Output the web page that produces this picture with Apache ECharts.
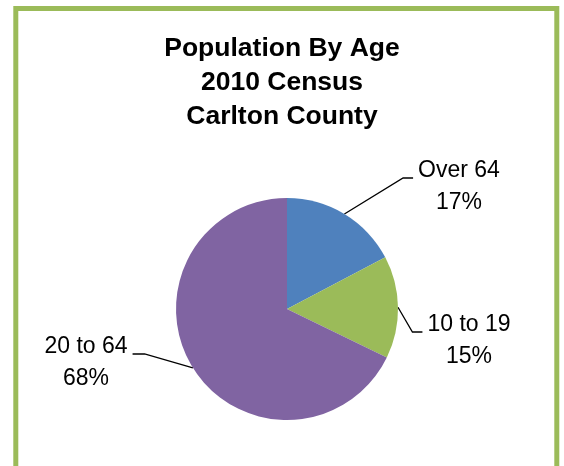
<!DOCTYPE html>
<html>
<head>
<meta charset="utf-8">
<script src="https://cdn.jsdelivr.net/npm/echarts@6/dist/echarts.min.js"></script>
<style>
html,body{margin:0;padding:0;background:#fff;}
#chart{width:564px;height:466px;}
</style>
</head>
<body>
<div id="chart"></div>
<script>
// ---- data ----
var titleLines = ['Population By Age', '2010 Census', 'Carlton County'];
var categories = ['Over 64', '10 to 19', '20 to 64'];
var values = [17.3, 14.9, 67.8];
var colors = ['#4F81BD', '#9BBB59', '#8064A2'];

// label placement (position/style, not data): [centerX, centerY of text block, side]
var labelPlace = [
  [459, 187, 'right'],
  [469, 341, 'right'],
  [86, 363, 'left']
];

var chart = echarts.init(document.getElementById('chart'), null, {renderer: 'canvas'});

var seriesData = categories.map(function (c, i) {
  return {name: c, value: values[i], itemStyle: {color: colors[i]}};
});

var LH = 32;
var FS = 23;

chart.setOption({
  animation: false,
  backgroundColor: '#ffffff',
  title: {
    text: titleLines.join('\n'),
    left: 'center',
    top: 32,
    padding: 0,
    textStyle: {
      fontFamily: 'Liberation Sans, Arial, sans-serif',
      fontWeight: 'bold',
      fontSize: 26.5,
      lineHeight: 34,
      color: '#000'
    }
  },
  graphic: [{
    type: 'rect',
    shape: {x: 15.8, y: 8.5, width: 541, height: 520},
    style: {fill: 'none', stroke: '#9BBB59', lineWidth: 5},
    silent: true,
    z: 100
  }],
  series: [{
    type: 'pie',
    center: [287, 309],
    radius: 111,
    startAngle: 90,
    clockwise: true,
    avoidLabelOverlap: false,
    emphasis: {disabled: true},
    data: seriesData,
    label: {
      show: true,
      position: 'outside',
      color: '#000',
      fontFamily: 'Liberation Sans, Arial, sans-serif',
      fontSize: FS,
      lineHeight: LH,
      align: 'center',
      formatter: function (p) {
        return p.name + '\n' + Math.round(p.percent) + '%';
      }
    },
    labelLine: {
      show: true,
      length: 20,
      length2: 10,
      lineStyle: {color: '#000', width: 1.3}
    },
    labelLayout: function (params) {
      var pl = labelPlace[params.dataIndex];
      var cx = pl[0], cy = pl[1];
      var halfW = params.labelRect.width / 2;
      var lineY = cy - LH / 2 + 7;
      var start = params.labelLinePoints ? params.labelLinePoints[0] : null;
      var pts;
      if (pl[2] === 'right') {
        var endX = cx - halfW - 5;
        pts = [start, [endX - 10, lineY], [endX, lineY]];
      } else {
        var endX2 = cx + halfW + 5;
        pts = [start, [endX2 + 12, lineY], [endX2, lineY]];
      }
      var out = {x: cx, y: cy, align: 'center', verticalAlign: 'middle'};
      if (start) out.labelLinePoints = pts;
      return out;
    }
  }]
});
</script>
</body>
</html>
